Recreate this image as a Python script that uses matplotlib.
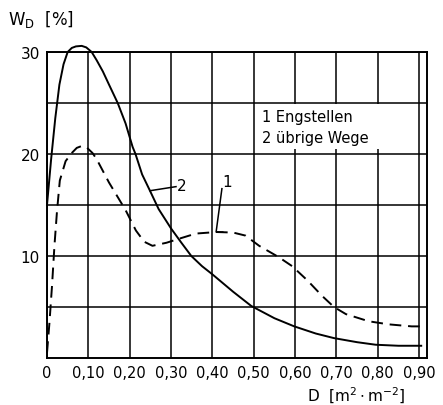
import matplotlib.pyplot as plt
from matplotlib.patches import Rectangle

# curve 2: übrige Wege (solid)
x_wege = [0, 0.01, 0.02, 0.03, 0.04, 0.05, 0.06, 0.07, 0.084, 0.095, 0.108, 0.12,
          0.135, 0.15, 0.171, 0.19, 0.207, 0.214, 0.23, 0.249, 0.27, 0.30, 0.325,
          0.349, 0.375, 0.40, 0.45, 0.494, 0.55, 0.598, 0.65, 0.694, 0.75, 0.795,
          0.85, 0.905]
y_wege = [15, 19.5, 23.5, 26.8, 28.8, 30, 30.4, 30.55, 30.6, 30.45, 30.0, 29.2,
          28.1, 26.8, 25, 23.0, 20.7, 20.0, 18.0, 16.4, 14.6, 12.7, 11.3,
          10.0, 9.0, 8.2, 6.5, 5.1, 3.9, 3.1, 2.4, 1.95, 1.55, 1.3,
          1.2, 1.2]

# curve 1: Engstellen (dashed)
x_eng = [0, 0.006, 0.012, 0.018, 0.024, 0.031, 0.045, 0.06, 0.072, 0.085, 0.097,
         0.11, 0.12, 0.15, 0.19, 0.215, 0.235, 0.255, 0.289, 0.32, 0.36, 0.41,
         0.45, 0.48, 0.513, 0.56, 0.593, 0.63, 0.665, 0.694, 0.723, 0.778, 0.826,
         0.882, 0.905]
y_eng = [0.5, 3.5, 7, 11, 14.3, 17.4, 19.3, 20.1, 20.6, 20.8, 20.6,
         20.1, 19.5, 17.2, 14.5, 12.5, 11.4, 11.0, 11.3, 11.7, 12.2, 12.35,
         12.3, 12.0, 11.0, 9.9, 9.0, 7.6, 6.1, 5.0, 4.3, 3.6, 3.3,
         3.1, 3.1]

xticks = [0, 0.1, 0.2, 0.3, 0.4, 0.5, 0.6, 0.7, 0.8, 0.9]
xlabels = ['0', '0,10', '0,20', '0,30', '0,40', '0,50', '0,60', '0,70', '0,80', '0,90']
yticks = [10, 20, 30]
yminor = [5, 15, 25]

plt.rcParams['font.family'] = ['DejaVu Sans']
fig = plt.figure(figsize=(4.43, 4.06), dpi=100)
ax = fig.add_axes([47 / 443, 1 - 359 / 406, 380 / 443, 306 / 406])

ax.set_xlim(0, 0.919)
ax.set_ylim(0, 30)
ax.set_xticks(xticks)
ax.set_xticklabels(xlabels, fontsize=10.5)
ax.set_yticks(yticks)
ax.set_yticklabels([str(v) for v in yticks], fontsize=11)
ax.set_yticks(yminor, minor=True)
ax.tick_params(length=0, which='both', pad=5)
ax.set_axisbelow(True)
ax.grid(True, which='both', color='black', lw=1.1)
for s in ax.spines.values():
    s.set_linewidth(1.4)

# white area behind the key text
ax.add_patch(Rectangle((0.505, 20.5), 0.39, 4.4, facecolor='white',
                       edgecolor='none', zorder=1))

ax.plot(x_wege, y_wege, color='black', lw=1.4, clip_on=False, zorder=3)
ln, = ax.plot(x_eng, y_eng, color='black', lw=1.4, clip_on=False, zorder=3)
ln.set_dashes([6, 3.5])

# leader lines with numbers
ax.plot([0.249, 0.312], [16.4, 16.8], color='black', lw=1.1, zorder=3)
ax.text(0.315, 16.9, '2', fontsize=11, va='center', ha='left')
ax.plot([0.425, 0.409, 0.423], [12.35, 12.35, 16.6], color='black', lw=1.1, zorder=3)
ax.text(0.425, 17.3, '1', fontsize=11, va='center', ha='left')

ax.text(0.52, 23.7, '1 Engstellen', fontsize=10.5, va='center', ha='left', zorder=4)
ax.text(0.52, 21.6, '2 übrige Wege', fontsize=10.5, va='center', ha='left', zorder=4)

fig.text(8 / 443, 1 - 20 / 406, r'W$_\mathrm{D}$  [%]', fontsize=12, va='center', ha='left')
fig.text(356 / 443, 1 - 396 / 406, r'D  [m$^{2}\cdot$m$^{-2}$]', fontsize=11,
         va='center', ha='center')

fig.savefig('out.png', dpi=100)
